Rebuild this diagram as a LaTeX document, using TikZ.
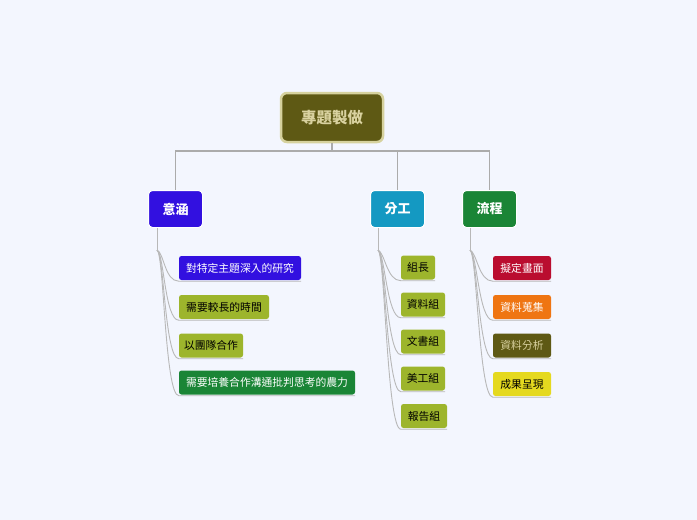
\documentclass[tikz,border=0pt]{standalone}
\usepackage{fontspec}
\setmainfont{Noto Sans CJK TC}
\usetikzlibrary{calc}
\definecolor{bgc}{HTML}{F3F6FE}
\definecolor{olive}{HTML}{5E5914}
\definecolor{olivebd}{HTML}{D6D29E}
\definecolor{olivetx}{HTML}{D9D2A0}
\definecolor{purp}{HTML}{3210E0}
\definecolor{teal}{HTML}{1499C2}
\definecolor{grn}{HTML}{1A8536}
\definecolor{yg}{HTML}{9DB52C}
\definecolor{crim}{HTML}{BA0D2F}
\definecolor{orng}{HTML}{EF7512}
\definecolor{yel}{HTML}{E5D91F}
\definecolor{lnk}{HTML}{ABABAB}
\tikzset{
  rootbox/.style={draw=olivebd, line width=2.5pt, fill=olive, text=olivetx, rounded corners=6pt, font=\fontsize{15.5}{18}\selectfont\bfseries, minimum width=102pt, minimum height=49pt, inner sep=0pt},
  topbox/.style={draw=white, line width=1pt, rounded corners=4pt, text=white, font=\fontsize{13}{16}\selectfont\bfseries, minimum width=54pt, minimum height=37pt, inner sep=0pt},
  kidbox/.style={rounded corners=2.5pt, font=\fontsize{10.8}{13}\selectfont, minimum height=24pt, inner sep=0pt},
  trunk/.style={draw=lnk, line width=1.6pt},
  twig/.style={draw=lnk!85, line width=0.9pt},
}
\begin{document}
\begin{tikzpicture}[x=1pt,y=-1pt]
\fill[bgc] (0,0) rectangle (697,520);
\useasboundingbox (0,0) rectangle (697,520);

\node[rootbox] (root) at (332,117.5) {專題製做};

\node[topbox, fill=purp] (t1) at (175.5,209) {意涵};
\node[topbox, fill=teal] (t2) at (397.5,209) {分工};
\node[topbox, fill=grn] (t3) at (489.5,209) {流程};

\coordinate (bar) at (332,151);
\draw[trunk] (root.south) -- (bar);
\draw[trunk] (t1.north) |- (bar) -| (t3.north);
\draw[trunk] (t2.north) -- (t2.north |- bar);

% kids of 意涵
\node[kidbox, fill=purp, text=white, minimum width=122pt] (a1) at (240,268) {對特定主題深入的研究};
\node[kidbox, fill=yg, text=black, minimum width=90pt] (a2) at (224,307) {需要較長的時間};
\node[kidbox, fill=yg, text=black, minimum width=64pt] (a3) at (211,345.5) {以團隊合作};
\node[kidbox, fill=grn, text=white, minimum width=176pt] (a4) at (267,382.5) {需要培養合作溝通批判思考的農力};

% kids of 分工
\node[kidbox, fill=yg, text=black, minimum width=34pt] (b1) at (418,267.5) {組長};
\node[kidbox, fill=yg, text=black, minimum width=44pt] (b2) at (423,304.5) {資料組};
\node[kidbox, fill=yg, text=black, minimum width=44pt] (b3) at (423,341.5) {文書組};
\node[kidbox, fill=yg, text=black, minimum width=44pt] (b4) at (423,378.5) {美工組};
\node[kidbox, fill=yg, text=black, minimum width=46pt] (b5) at (424,416) {報告組};

% kids of 流程
\node[kidbox, fill=crim, text=white, minimum width=58pt] (c1) at (522,268) {擬定畫面};
\node[kidbox, fill=orng, text=white, minimum width=58pt] (c2) at (522,307) {資料蒐集};
\node[kidbox, fill=olive, text=olivetx, minimum width=58pt] (c3) at (522,345.5) {資料分析};
\node[kidbox, fill=yel, text=black, minimum width=58pt] (c4) at (522,384) {成果呈現};

% trunks
\coordinate (ja) at (157,250);
\coordinate (jb) at (378,250);
\coordinate (jc) at (470,250);
\draw[twig] (ja |- t1.south) -- (ja);
\draw[twig] (jb |- t2.south) -- (jb);
\draw[twig] (jc |- t3.south) -- (jc);

\foreach \j/\k in {ja/a1,ja/a2,ja/a3,ja/a4,jb/b1,jb/b2,jb/b3,jb/b4,jb/b5,jc/c1,jc/c2,jc/c3,jc/c4}{
  \draw[twig] (\j) .. controls ($(\j)+(7,3)$) and ($(\k.south west)+(-14,1)$) .. ($(\k.south west)+(0,1)$) -- ($(\k.south east)+(0,1)$);
}
\end{tikzpicture}
\end{document}
